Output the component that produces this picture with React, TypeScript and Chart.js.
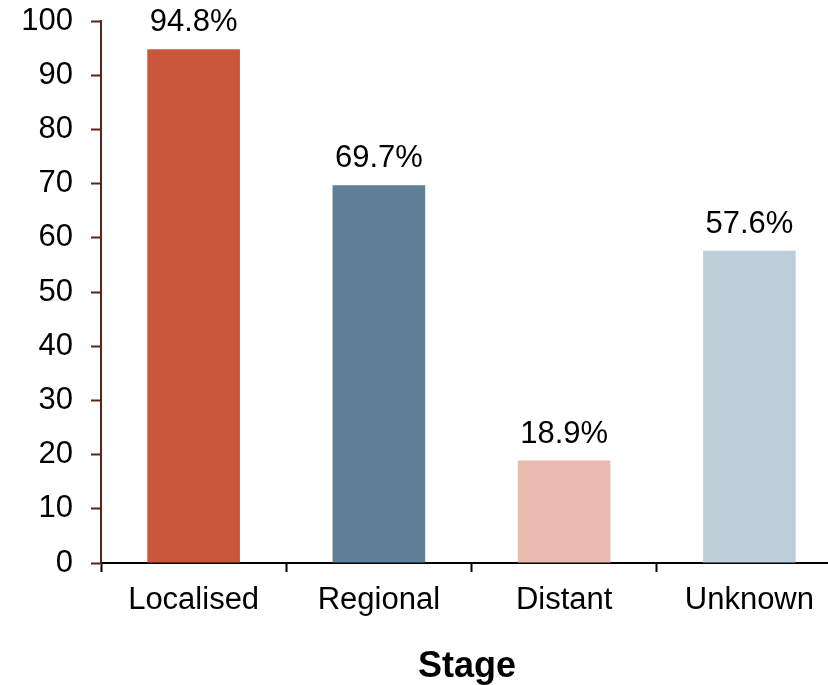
import React, { useEffect, useRef } from "react";
import { Chart, registerables } from "chart.js";

Chart.register(...registerables);

const categories = ["Localised", "Regional", "Distant", "Unknown"];
const values = [94.8, 69.7, 18.9, 57.6];
const valueLabels = ["94.8%", "69.7%", "18.9%", "57.6%"];
const barColors = ["#C8573C", "#5E7F96", "#E8BAB0", "#BDCED8"];
const yTicks = [0, 10, 20, 30, 40, 50, 60, 70, 80, 90, 100];
const xTitle = "Stage";

const FONT = "'Liberation Sans', Arial, sans-serif";
const FS = 31;

const labelPlugin = {
  id: "valueLabels",
  afterDatasetsDraw(chart: any) {
    const ctx = chart.ctx;
    const meta = chart.getDatasetMeta(0);
    ctx.save();
    ctx.font = `${FS}px ${FONT}`;
    ctx.fillStyle = "#000";
    ctx.textAlign = "center";
    ctx.textBaseline = "alphabetic";
    meta.data.forEach((bar: any, i: number) => {
      ctx.fillText(valueLabels[i], bar.x, bar.y - 18);
    });
    ctx.restore();
  },
};

const titlePlugin = {
  id: "xTitle",
  afterDraw(chart: any) {
    const ctx = chart.ctx;
    ctx.save();
    ctx.font = `bold 36px ${FONT}`;
    ctx.fillStyle = "#000";
    ctx.textAlign = "center";
    ctx.textBaseline = "alphabetic";
    ctx.fillText(xTitle, 467, 677);
    ctx.restore();
  },
};

export default function App() {
  const ref = useRef<HTMLCanvasElement | null>(null);
  useEffect(() => {
    document.body.style.margin = "0";
    const chart = new Chart(ref.current!, {
      type: "bar",
      data: {
        labels: categories,
        datasets: [
          {
            data: values,
            backgroundColor: barColors,
            borderWidth: 0,
            categoryPercentage: 0.5,
            barPercentage: 1,
          },
        ],
      },
      plugins: [labelPlugin, titlePlugin],
      options: {
        animation: false,
        responsive: false,
        devicePixelRatio: 1,
        layout: { padding: { top: 21, right: 0, left: 0, bottom: 0 } },
        plugins: { legend: { display: false }, tooltip: { enabled: false } },
        scales: {
          x: {
            offset: true,
            grid: {
              offset: true,
              drawOnChartArea: false,
              drawTicks: true,
              tickLength: 9,
              tickWidth: 2,
              tickColor: "#000",
            },
            border: { display: true, color: "#000", width: 2 },
            ticks: {
              color: "#000",
              font: { family: FONT, size: FS },
              padding: 10,
              maxRotation: 0,
            },
            afterFit(scale: any) {
              scale.height = 122;
              scale.paddingLeft = 0;
              scale.paddingRight = 0;
            },
          },
          y: {
            min: 0,
            max: 100,
            afterBuildTicks(scale: any) {
              scale.ticks = yTicks.map((v) => ({ value: v }));
            },
            grid: {
              drawOnChartArea: false,
              drawTicks: true,
              tickLength: 10,
              tickWidth: 2,
              tickColor: "#5A2514",
            },
            border: { display: true, color: "#5A2514", width: 2 },
            ticks: {
              color: "#000",
              font: { family: FONT, size: FS },
              padding: 18,
            },
            afterFit(scale: any) {
              scale.width = 101;
              scale.paddingTop = 0;
              scale.paddingBottom = 0;
            },
          },
        },
      },
    });
    return () => chart.destroy();
  }, []);
  return (
    <div
      style={{
        position: "fixed",
        left: 0,
        top: 0,
        width: 828,
        height: 685,
        overflow: "hidden",
        background: "#fff",
      }}
    >
      <canvas ref={ref} width={842} height={685} style={{ display: "block" }} />
    </div>
  );
}
